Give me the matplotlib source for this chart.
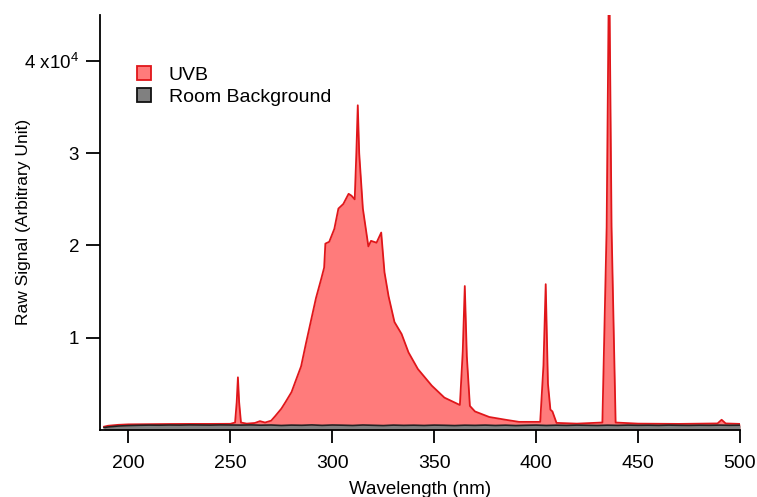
import numpy as np
import matplotlib
matplotlib.use("Agg")
import matplotlib.pyplot as plt
from matplotlib.patches import Patch

plt.rcParams['font.family'] = ['Liberation Sans', 'DejaVu Sans']
plt.rcParams['mathtext.fontset'] = 'custom'
plt.rcParams['mathtext.rm'] = 'Liberation Sans'
plt.rcParams['mathtext.default'] = 'regular'

# UVB lamp spectrum
uvb_wl = [188, 190, 195, 200, 210, 220, 230, 240, 250, 252.3, 253.1, 253.7, 254.3, 255.2,
          258, 262, 264.5, 267, 270, 272, 275, 277, 280, 282, 284.7, 287, 289.7, 292,
          294.6, 296.0, 296.6, 298.5, 301, 303, 305.4, 308, 309.4, 311, 311.8, 312.5,
          313.2, 315, 317.7, 319, 321.7, 324, 325.6, 327.6, 330.5, 334, 337.4, 342, 348.8,
          355, 362.6, 364.0, 365, 366.0, 367.5, 370, 377, 385, 391.6, 402, 403.6, 404.7,
          405.8, 407, 408, 410, 420, 432.5, 434.6, 435.8, 437.0, 439, 450, 470, 489, 491,
          493, 500]
uvb_val = [350, 450, 550, 600, 620, 640, 650, 650, 660, 800, 3000, 5700, 3000, 800,
           680, 750, 950, 800, 1000, 1500, 2300, 3000, 4100, 5300, 6900, 9300, 12000, 14300,
           16400, 17600, 20200, 20400, 21800, 24000, 24500, 25600, 25400, 25000, 30000, 35200,
           30000, 24000, 19900, 20500, 20300, 21400, 17100, 14500, 11700, 10400, 8400, 6600, 4800,
           3500, 2700, 8500, 15600, 8000, 2600, 2000, 1400, 1100, 870, 870, 7000, 15800,
           5000, 2200, 2000, 760, 680, 800, 22000, 52000, 22000, 800, 680, 650, 700, 1100,
           700, 650]

# room background
bg_wl = [188, 190, 195, 200, 205, 210, 215, 220, 225, 230, 235, 240, 245, 250, 255, 260,
         265, 270, 275, 280, 285, 290, 295, 300, 305, 310, 315, 320, 325, 330, 335, 340,
         345, 350, 355, 360, 365, 370, 375, 380, 385, 390, 395, 400, 405, 410, 415, 420,
         425, 430, 435, 440, 445, 450, 455, 460, 465, 470, 475, 480, 485, 490, 495, 500]
bg_val = [250, 320, 420, 470, 500, 520, 510, 530, 520, 540, 530, 520, 540, 530, 520, 540,
          510, 530, 480, 520, 500, 540, 490, 530, 510, 480, 530, 500, 470, 520, 490, 510,
          480, 520, 500, 470, 510, 490, 520, 480, 510, 470, 500, 520, 480, 510, 490, 520,
          500, 480, 510, 490, 520, 500, 510, 490, 520, 500, 490, 510, 500, 520, 500, 510]

fig = plt.figure(figsize=(7.57, 4.97), dpi=100)
ax = fig.add_axes([0.132, 0.135, 0.8455, 0.835])

ax.fill_between(uvb_wl, uvb_val, 0, color='#ff7b7b', linewidth=0)
ax.plot(uvb_wl, uvb_val, color='#e0161a', linewidth=1.3)
ax.fill_between(bg_wl, bg_val, 0, color='#808080', linewidth=0)
ax.plot(bg_wl, bg_val, color='#222222', linewidth=1.2)

ax.set_xlim(186, 500)
ax.set_ylim(0, 45000)
ax.set_xticks([200, 250, 300, 350, 400, 450, 500])
ax.set_yticks([10000, 20000, 30000, 40000])
ax.set_yticklabels(['1', '2', '3', '4 x10$^{4}$'])

for s in ['top', 'right']:
    ax.spines[s].set_visible(False)
for s in ['left', 'bottom']:
    ax.spines[s].set_linewidth(1.3)
ax.tick_params(axis='x', direction='out', length=9, width=1.3, pad=9, labelsize=14)
ax.tick_params(axis='y', direction='out', length=10, width=1.3, pad=5, labelsize=13.5)

ax.set_xlabel('Wavelength (nm)', fontsize=13.5)
ax.xaxis.set_label_coords(0.5, -0.124)
ax.set_ylabel('Raw Signal (Arbitrary Unit)', fontsize=12.5)
ax.yaxis.set_label_coords(-0.108, 0.5)

handles = [
    Patch(facecolor='#ff7b7b', edgecolor='#e0161a', linewidth=1.3, label='UVB'),
    Patch(facecolor='#808080', edgecolor='#111111', linewidth=1.3, label='Room Background'),
]
ax.legend(handles=handles, loc='upper left', bbox_to_anchor=(0.045, 0.895), frameon=False,
          fontsize=14, handlelength=0.75, handleheight=0.7, handletextpad=0.9,
          labelspacing=0.22, borderaxespad=0)

fig.savefig('out.png', dpi=100)
